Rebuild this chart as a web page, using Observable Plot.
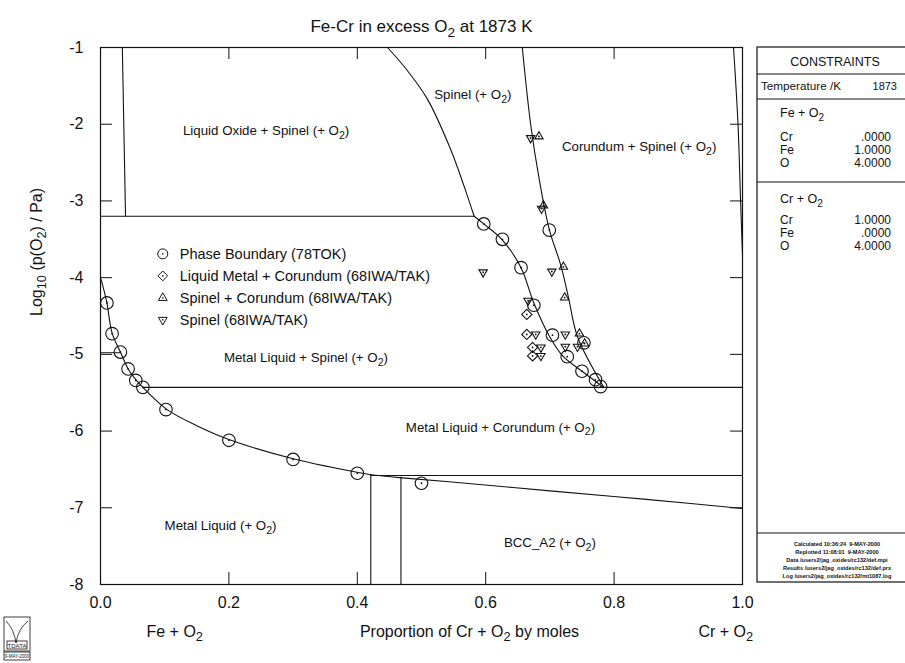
<!DOCTYPE html>
<html>
<head>
<meta charset="utf-8">
<script src="https://cdn.jsdelivr.net/npm/d3@7"></script>
<script src="https://cdn.jsdelivr.net/npm/@observablehq/plot@0.6"></script>
<style>
  html, body { margin: 0; padding: 0; background: #fff; }
  #chart { width: 905px; height: 663px; }
</style>
</head>
<body>
<div id="chart"></div>
<script>
// Fe-Cr-O phase diagram at 1873 K: x = Cr/(Fe+Cr) proportion, y = log10 p(O2)/Pa

// ---- calculated phase boundaries ----
const liquidusX = [0.0, 0.004, 0.01, 0.018, 0.031, 0.043, 0.055, 0.066, 0.102, 0.15, 0.2, 0.3, 0.421];
const liquidusY = [-4.0, -4.12, -4.33, -4.72, -4.97, -5.19, -5.33, -5.43, -5.71, -5.93, -6.11, -6.36, -6.57];
const bccLiquidX = [0.421, 0.47, 0.543, 0.7, 0.85, 1.0];
const bccLiquidY = [-6.57, -6.61, -6.66, -6.78, -6.89, -7.01];
const spinelUpperX = [0.447, 0.476, 0.509, 0.545, 0.566, 0.582];
const spinelUpperY = [-1.0, -1.28, -1.67, -2.32, -2.8, -3.2];
const spinelLowerX = [0.582, 0.597, 0.626, 0.655, 0.675, 0.699, 0.72, 0.75, 0.784];
const spinelLowerY = [-3.2, -3.3, -3.51, -3.87, -4.33, -4.76, -5.02, -5.22, -5.43];
const corundumX = [0.657, 0.67, 0.683, 0.699, 0.717, 0.729, 0.743, 0.784];
const corundumY = [-1.0, -2.0, -2.7, -3.37, -3.84, -4.26, -4.77, -5.43];
const crSideX = [0.986, 0.993, 0.997, 1.0];
const crSideY = [-1.0, -2.0, -3.0, -3.7];

// straight tie lines
const spinelTieX = [0.066, 1.0],   spinelTieY = [-5.43, -5.43];
const corundumTieX = [0.421, 1.0], corundumTieY = [-6.58, -6.58];
const liquidBccAX = [0.421, 0.421], liquidBccAY = [-6.57, -8.0];
const liquidBccBX = [0.468, 0.468], liquidBccBY = [-6.6, -8.0];
const oxideTieX = [0.0, 0.582],    oxideTieY = [-3.2, -3.2];
const oxideEdgeX = [0.034, 0.039], oxideEdgeY = [-1.0, -3.2];
const feStubX = [0.0, 0.03],       feStubY = [-4.98, -4.98];

// ---- experimental points ----
const boundaryX = [0.01, 0.018, 0.031, 0.043, 0.055, 0.066, 0.102, 0.2, 0.3, 0.4, 0.5,
                   0.597, 0.626, 0.655, 0.675, 0.699, 0.704, 0.727, 0.753, 0.75, 0.771, 0.779];
const boundaryY = [-4.33, -4.73, -4.97, -5.19, -5.34, -5.43, -5.72, -6.12, -6.37, -6.55, -6.68,
                   -3.3, -3.5, -3.87, -4.36, -3.38, -4.75, -5.03, -4.85, -5.22, -5.33, -5.42];
const metalCorX = [0.664, 0.664, 0.673, 0.673];
const metalCorY = [-4.48, -4.74, -4.91, -5.02];
const spinelCorX = [0.683, 0.69, 0.721, 0.723, 0.746, 0.754];
const spinelCorY = [-2.16, -3.06, -3.86, -4.26, -4.73, -4.86];
const spinelX = [0.670, 0.687, 0.596, 0.703, 0.666, 0.678, 0.724, 0.686, 0.686, 0.724, 0.743];
const spinelY = [-2.18, -3.1, -3.93, -3.92, -4.3, -4.74, -4.74, -4.91, -5.02, -4.9, -4.9];

const seriesNames = [
  "Phase Boundary (78TOK)",
  "Liquid Metal + Corundum (68IWA/TAK)",
  "Spinel + Corundum (68IWA/TAK)",
  "Spinel (68IWA/TAK)"
];

// ---- phase field labels ----
const regionNames = [
  "Liquid Oxide + Spinel (+ O_{2})",
  "Spinel (+ O_{2})",
  "Corundum + Spinel (+ O_{2})",
  "Metal Liquid + Spinel (+ O_{2})",
  "Metal Liquid + Corundum (+ O_{2})",
  "Metal Liquid (+ O_{2})",
  "BCC_A2 (+ O_{2})"
];
const regionX = [0.258, 0.58, 0.839, 0.32, 0.623, 0.187, 0.70];
const regionY = [-2.08, -1.62, -2.3, -5.05, -5.95, -7.23, -7.46];

// ---- axes ----
const xTicks = [0, 0.2, 0.4, 0.6, 0.8, 1.0];
const yTicks = [-1, -2, -3, -4, -5, -6, -7, -8];

// ---- constraints panel ----
const temperature = "1873";
const elements = ["Cr", "Fe", "O"];
const feO2Amounts = [".0000", "1.0000", "4.0000"];
const crO2Amounts = ["1.0000", ".0000", "4.0000"];
const footerLines = [
  "Calculated 10:36:24  9-MAY-2000",
  "Replotted 11:08:01  9-MAY-2000",
  "Data /users2/jag_oxides/rc132/def.mpi",
  "Results /users2/jag_oxides/rc132/def.prx",
  "Log /users2/jag_oxides/rc132/mt1087.log"
];

const font = "'Liberation Sans', Arial, Helvetica, sans-serif";
const ink = "#111";

const rows = (name, xs, ys) => xs.map((x, i) => ({line: name, x, y: ys[i]}));
const pts = (xs, ys) => xs.map((x, i) => ({x, y: ys[i]}));

const curves = [
  ...rows("liquidus", liquidusX, liquidusY),
  ...rows("bcc", bccLiquidX, bccLiquidY),
  ...rows("spinelUpper", spinelUpperX, spinelUpperY),
  ...rows("spinelLower", spinelLowerX, spinelLowerY),
  ...rows("corundum", corundumX, corundumY),
  ...rows("crSide", crSideX, crSideY)
];
const ties = [
  ...rows("spinelTie", spinelTieX, spinelTieY),
  ...rows("corundumTie", corundumTieX, corundumTieY),
  ...rows("liquidBccA", liquidBccAX, liquidBccAY),
  ...rows("liquidBccB", liquidBccBX, liquidBccBY),
  ...rows("oxideTie", oxideTieX, oxideTieY),
  ...rows("oxideEdge", oxideEdgeX, oxideEdgeY),
  ...rows("feStub", feStubX, feStubY)
];

const boundaryPts = pts(boundaryX, boundaryY);
const metalCorPts = pts(metalCorX, metalCorY);
const spinelCorPts = pts(spinelCorX, spinelCorY);
const spinelPts = pts(spinelX, spinelY);
const allPts = [...boundaryPts, ...metalCorPts, ...spinelCorPts, ...spinelPts];

// downward-pointing triangle, same proportions as d3.symbolTriangle2
const triangleDown = {
  draw(context, size) {
    const s = Math.sqrt(size) * 0.6824, t = s / 2, u = s * Math.sqrt(3) / 2;
    context.moveTo(0, s);
    context.lineTo(-u, -t);
    context.lineTo(u, -t);
    context.closePath();
  }
};
const symbols = ["circle", "diamond2", "triangle2", triangleDown];
const plotRadius = [6.3, 4.6, 4.0, 4.0];
const legendRadius = [5, 4.4, 4.2, 4.2];

// legend rows sit inside the lower-left field
const legendRows = seriesNames.map((name, i) => ({name, i, x: 0.097, y: -3.69 - i * 0.287}));

const innerX = xTicks.filter(d => d > 0 && d < 1);
const innerY = yTicks.filter(d => d > -8 && d < -1);
const tickLen = -12;

const plot = Plot.plot({
  width: 905,
  height: 663,
  marginLeft: 100,
  marginRight: 163,
  marginTop: 47,
  marginBottom: 79,
  x: {domain: [0, 1]},
  y: {domain: [-8, -1]},
  style: {fontFamily: font, background: "#fff", color: ink},
  marks: [
    Plot.frame({stroke: ink, strokeWidth: 1.2}),
    // inward ticks on all four sides
    Plot.ruleX(innerX, {x: d => d, y1: -8, y2: -8, insetTop: tickLen, stroke: ink}),
    Plot.ruleX(innerX, {x: d => d, y1: -1, y2: -1, insetBottom: tickLen, stroke: ink}),
    Plot.ruleY(innerY, {y: d => d, x1: 0, x2: 0, insetRight: tickLen, stroke: ink}),
    Plot.ruleY(innerY, {y: d => d, x1: 1, x2: 1, insetLeft: tickLen, stroke: ink}),
    Plot.axisX(xTicks, {anchor: "bottom", tickSize: 0, tickPadding: 12, fontSize: 16,
      tickFormat: d => d.toFixed(1), label: null}),
    Plot.axisY(yTicks, {anchor: "left", tickSize: 0, tickPadding: 17, fontSize: 16,
      tickFormat: d => String(d), label: null}),

    // phase boundaries
    Plot.line(curves, {x: "x", y: "y", z: "line", curve: "catmull-rom", stroke: ink, strokeWidth: 1.1}),
    Plot.line(ties, {x: "x", y: "y", z: "line", stroke: ink, strokeWidth: 1.1}),

    // experimental data
    Plot.dot(boundaryPts, {x: "x", y: "y", r: plotRadius[0], symbol: symbols[0], stroke: ink, fill: "none", strokeWidth: 1.1}),
    Plot.dot(metalCorPts, {x: "x", y: "y", r: plotRadius[1], symbol: symbols[1], stroke: ink, fill: "none", strokeWidth: 1.1}),
    Plot.dot(spinelCorPts, {x: "x", y: "y", r: plotRadius[2], symbol: symbols[2], stroke: ink, fill: "none", strokeWidth: 1.1}),
    Plot.dot(spinelPts, {x: "x", y: "y", r: plotRadius[3], symbol: symbols[3], stroke: ink, fill: "none", strokeWidth: 1.1}),
    Plot.dot(allPts, {x: "x", y: "y", r: 0.9, fill: ink}),

    // legend
    ...legendRows.map(d => Plot.dot([d], {x: "x", y: "y", r: legendRadius[d.i], symbol: symbols[d.i], stroke: ink, fill: "none", strokeWidth: 1})),
    Plot.dot(legendRows, {x: "x", y: "y", r: 0.8, fill: ink}),
    Plot.text(legendRows, {x: "x", y: "y", text: "name", dx: 17, textAnchor: "start", fontSize: 14.5, fill: ink}),

    // field labels
    Plot.text(regionNames, {x: (d, i) => regionX[i], y: (d, i) => regionY[i], text: d => d, fontSize: 13.3, fill: ink}),

    // titles
    Plot.text(["Fe-Cr in excess O_{2} at 1873 K"], {frameAnchor: "top", dy: -28, text: d => d, fontSize: 17, fill: ink}),
    Plot.text(["Log_{10} (p(O_{2}) / Pa)"], {frameAnchor: "left", dx: -64, rotate: -90, text: d => d, fontSize: 16, fill: ink}),
    Plot.text(["Proportion of Cr + O_{2} by moles"], {frameAnchor: "bottom", dx: 48, dy: 52, text: d => d, fontSize: 16, fill: ink}),
    Plot.text(["Fe + O_{2}"], {frameAnchor: "bottom-left", dx: 46, dy: 52, textAnchor: "start", text: d => d, fontSize: 16, fill: ink}),
    Plot.text(["Cr + O_{2}"], {frameAnchor: "bottom-right", dx: -44, dy: 52, textAnchor: "start", text: d => d, fontSize: 16, fill: ink})
  ]
});

document.getElementById("chart").appendChild(plot);

// ---- constraints panel to the right of the diagram ----
const svg = d3.select(plot);
const panel = svg.append("g").attr("font-family", font).attr("fill", ink).attr("text-anchor", "start");
const px0 = 757, pTop = 47, pBottom = 582, pRight = 930;
panel.append("rect").attr("x", px0).attr("y", pTop).attr("width", pRight - px0).attr("height", pBottom - pTop)
  .attr("fill", "none").attr("stroke", ink).attr("stroke-width", 1.2);
[74, 99, 182, 533].forEach(y => panel.append("line").attr("x1", px0).attr("x2", pRight)
  .attr("y1", y).attr("y2", y).attr("stroke", ink).attr("stroke-width", 1));
panel.append("text").attr("x", 835).attr("y", 66).attr("text-anchor", "middle")
  .attr("font-size", 12.5).text("CONSTRAINTS");
panel.append("text").attr("x", 761).attr("y", 90).attr("font-size", 10.5)
  .attr("textLength", 80).attr("lengthAdjust", "spacingAndGlyphs").text("Temperature /K");
panel.append("text").attr("x", 897).attr("y", 90).attr("text-anchor", "end")
  .attr("font-size", 11).text(temperature);
const block = (title, amounts, y0, gap) => {
  panel.append("text").attr("x", 780).attr("y", y0).attr("font-size", 12.5).text(title);
  elements.forEach((el, i) => {
    const y = y0 + gap + i * 13;
    panel.append("text").attr("x", 780).attr("y", y).attr("font-size", 12).text(el);
    panel.append("text").attr("x", 891).attr("y", y).attr("text-anchor", "end")
      .attr("font-size", 12).text(amounts[i]);
  });
};
block("Fe + O_{2}", feO2Amounts, 117, 24);
block("Cr + O_{2}", crO2Amounts, 203, 21);
footerLines.forEach((t, i) => panel.append("text").attr("x", 837).attr("y", 546 + i * 8)
  .attr("text-anchor", "middle").attr("font-size", 5.6).attr("font-weight", "bold").text(t));

// ---- small MTDATA badge in the lower-left corner ----
const badge = svg.append("g").attr("fill", "none").attr("stroke", ink).attr("stroke-width", 0.8);
badge.append("rect").attr("x", 4).attr("y", 617).attr("width", 26).attr("height", 34);
badge.append("path").attr("d", "M6,621 Q14,629 16,643 Q18,629 28,621");
badge.append("rect").attr("x", 7).attr("y", 641).attr("width", 20).attr("height", 8);
badge.append("text").attr("x", 17).attr("y", 647.5).attr("text-anchor", "middle")
  .attr("font-size", 6).attr("font-family", font).attr("fill", ink).attr("stroke", "none").text("TDATA");
badge.append("rect").attr("x", 4).attr("y", 652).attr("width", 26).attr("height", 8);
badge.append("text").attr("x", 17).attr("y", 658).attr("text-anchor", "middle")
  .attr("font-size", 4.5).attr("font-family", font).attr("fill", ink).attr("stroke", "none").text("9-MAY-2000");

// ---- render _{...} as subscripts ----
plot.querySelectorAll("text").forEach(el => {
  const s = el.textContent;
  if (!s.includes("_{")) return;
  const fs = parseFloat(getComputedStyle(el).fontSize) || 12;
  const shift = fs * 0.3;
  el.textContent = "";
  const parts = s.split(/(_\{[^}]*\})/);
  let lowered = false;
  parts.forEach(p => {
    if (!p) return;
    const t = document.createElementNS("http://www.w3.org/2000/svg", "tspan");
    if (p.startsWith("_{")) {
      t.textContent = p.slice(2, -1);
      t.setAttribute("font-size", fs * 0.8);
      t.setAttribute("dy", shift);
      lowered = true;
    } else {
      t.textContent = p;
      if (lowered) { t.setAttribute("dy", -shift); lowered = false; }
    }
    el.appendChild(t);
  });
});
</script>
</body>
</html>
